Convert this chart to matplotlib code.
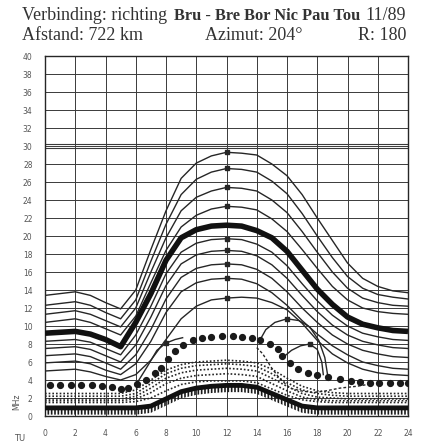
import matplotlib
matplotlib.use("Agg")
import matplotlib.pyplot as plt

# uren (TU)
uren = list(range(25))

# bovenste krommenfamilie (MHz per uur 0..24)
c1 = [13.4, 13.6, 13.8, 13.4, 12.6, 11.9, 14.0, 18.5, 22.8, 26.4, 28.1, 28.9, 29.3, 29.2, 29.0, 28.0, 26.7, 24.6, 22.0, 19.5, 17.0, 15.3, 14.4, 13.9, 13.7]
c2 = [12.3, 12.5, 12.7, 12.3, 11.5, 10.8, 12.9, 17.2, 21.3, 24.6, 26.3, 27.1, 27.5, 27.4, 27.1, 26.1, 24.7, 22.5, 20.0, 17.6, 15.5, 14.2, 13.5, 13.2, 13.0]
c3 = [11.3, 11.5, 11.7, 11.3, 10.6, 9.9, 12.0, 16.0, 19.8, 22.8, 24.3, 25.0, 25.4, 25.3, 25.0, 24.0, 22.6, 20.5, 18.2, 16.0, 14.2, 13.1, 12.6, 12.3, 12.2]
c4 = [10.4, 10.6, 10.8, 10.4, 9.7, 9.0, 11.1, 14.8, 18.4, 21.0, 22.3, 23.0, 23.3, 23.2, 22.9, 21.9, 20.5, 18.5, 16.4, 14.4, 12.9, 12.0, 11.6, 11.4, 11.3]
muf = [9.2, 9.3, 9.4, 9.1, 8.5, 7.7, 10.4, 13.6, 17.3, 19.8, 20.7, 21.1, 21.2, 21.1, 20.6, 19.8, 18.3, 16.2, 14.1, 12.4, 11.0, 10.2, 9.8, 9.5, 9.4]
c6 = [8.3, 8.4, 8.5, 8.2, 7.5, 6.8, 9.0, 12.2, 15.8, 18.2, 19.2, 19.6, 19.7, 19.6, 19.1, 18.2, 16.7, 14.7, 12.8, 11.2, 10.0, 9.2, 8.8, 8.5, 8.4]
c7 = [7.5, 7.6, 7.7, 7.4, 6.7, 6.0, 7.9, 11.0, 14.5, 16.9, 17.9, 18.3, 18.4, 18.3, 17.8, 16.8, 15.3, 13.4, 11.6, 10.1, 9.0, 8.3, 7.9, 7.6, 7.5]
c8 = [6.7, 6.8, 6.9, 6.6, 5.9, 5.2, 6.8, 9.6, 13.0, 15.4, 16.4, 16.8, 16.9, 16.8, 16.3, 15.3, 13.8, 12.0, 10.4, 9.0, 8.0, 7.3, 6.9, 6.6, 6.5]
c9 = [5.9, 6.0, 6.1, 5.8, 5.1, 4.6, 5.8, 8.3, 11.5, 13.8, 14.8, 15.2, 15.3, 15.2, 14.7, 13.7, 12.3, 10.6, 9.1, 7.8, 6.8, 6.0, 5.6, 5.3, 5.2]
c10 = [5.0, 5.1, 5.2, 4.9, 4.4, 4.0, 4.6, 6.2, 8.5, 10.8, 12.2, 12.9, 13.1, 13.2, 13.1, 12.6, 11.8, 10.3, 8.4, 6.9, 5.9, 5.2, 4.8, 4.6, 4.5]
familie = [c1, c2, c3, c4, c6, c7, c8, c9, c10]

# korte aftakkingen
tak1_h = [14.2, 14.6, 15.2, 16.0, 16.8, 17.5, 18.1, 18.5, 18.7]
tak1_v = [8.4, 9.6, 10.4, 10.8, 10.6, 9.9, 8.4, 6.5, 4.4]
tak2_h = [15.8, 16.3, 16.9, 17.5, 18.0, 18.3, 18.4]
tak2_v = [6.6, 7.3, 7.8, 8.0, 7.4, 6.0, 4.6]
tak3_h = [6.1, 6.8, 7.4, 8.0, 8.6, 9.1]
tak3_v = [3.7, 5.6, 7.3, 8.1, 8.5, 8.7]
streep_h = [14.0, 14.4, 15.0, 15.5, 16.2, 16.9, 17.7, 18.6, 19.5, 20.6, 21.7]
streep_v = [7.6, 6.9, 5.3, 4.2, 3.1, 2.8, 2.6, 2.8, 3.1, 3.3, 3.6]

# grote stippen
stip_h = [0.3, 1.0, 1.7, 2.4, 3.1, 3.8, 4.4, 5.0, 5.5, 6.1, 6.7, 7.3, 7.7, 8.1, 8.6, 9.1, 9.8, 10.4, 11.0, 11.7,
          12.4, 13.0, 13.7, 14.2, 14.9, 15.4, 15.7, 16.2, 16.7, 17.4, 18.0, 18.7, 19.5, 20.2, 20.8, 21.5, 22.1,
          22.8, 23.5, 24.0]
stip_v = [3.5, 3.5, 3.5, 3.5, 3.4, 3.3, 3.2, 3.0, 3.1, 3.6, 4.0, 4.8, 5.3, 6.3, 7.2, 7.9, 8.5, 8.7, 8.8, 8.9,
          8.9, 8.8, 8.7, 8.4, 8.0, 7.5, 6.7, 5.9, 5.2, 4.8, 4.6, 4.3, 4.1, 3.9, 3.8, 3.7, 3.7,
          3.7, 3.7, 3.7]

# fijne stippellijnen onderaan
d1 = [2.5, 2.5, 2.5, 2.5, 2.5, 2.5, 2.9, 4.0, 5.1, 5.7, 6.0, 6.1, 6.2, 6.1, 5.9, 5.2, 4.2, 3.3, 2.8, 2.6, 2.5, 2.5, 2.5, 2.5, 2.5]
d2 = [2.2, 2.2, 2.2, 2.2, 2.2, 2.2, 2.5, 3.6, 4.7, 5.3, 5.6, 5.7, 5.8, 5.7, 5.5, 4.7, 3.7, 2.9, 2.5, 2.3, 2.2, 2.2, 2.2, 2.2, 2.2]
d3 = [1.9, 1.9, 1.9, 1.9, 1.9, 1.9, 2.2, 3.1, 4.2, 4.8, 5.1, 5.2, 5.3, 5.2, 5.0, 4.2, 3.3, 2.5, 2.1, 2.0, 1.9, 1.9, 1.9, 1.9, 1.9]
d4 = [1.7, 1.7, 1.7, 1.7, 1.7, 1.7, 1.9, 2.6, 3.6, 4.2, 4.5, 4.6, 4.7, 4.6, 4.4, 3.6, 2.8, 2.1, 1.8, 1.7, 1.7, 1.7, 1.7, 1.7, 1.7]
d5 = [1.5, 1.5, 1.5, 1.5, 1.5, 1.5, 1.6, 2.0, 2.8, 3.5, 3.8, 3.9, 3.9, 3.9, 3.7, 3.0, 2.3, 1.8, 1.6, 1.5, 1.5, 1.5, 1.5, 1.5, 1.5]
stippel = [d1, d2, d3, d4, d5]

# dikke onderste lijn (LUF)
luf = [0.9, 0.9, 0.9, 0.9, 0.9, 0.9, 0.9, 1.1, 1.9, 2.7, 3.1, 3.3, 3.4, 3.4, 3.2, 2.5, 1.8, 1.1, 0.9, 0.9, 0.9, 0.9, 0.9, 0.9, 0.9]

dubbel = [30]
inkt = '#262626'
raster = '#3a3a3a'

fig = plt.figure(figsize=(4.23, 4.48), dpi=100)
ax = fig.add_axes([45/423, 1-416/448, 363/423, 360/448])

for y in range(0, 41, 2):
    ax.axhline(y, color=raster, lw=0.7, zorder=1)
for x in range(0, 25, 2):
    ax.axvline(x, color=raster, lw=0.7, zorder=1)
for y in dubbel:
    ax.axhline(y - 0.18, color=raster, lw=0.8, zorder=1)
    ax.axhline(y + 0.18, color=raster, lw=0.8, zorder=1)

for c in familie:
    ax.plot(uren, c, color=inkt, lw=1.0, marker='s', markersize=2.5, markevery=[12], zorder=3)
ax.plot(uren, muf, color='#111111', lw=4.0, solid_capstyle='butt', zorder=4)

for th, tv in [(tak1_h, tak1_v), (tak2_h, tak2_v), (tak3_h, tak3_v)]:
    ax.plot(th, tv, color=inkt, lw=1.0, marker='s', markersize=2.5, markevery=[3], zorder=3)
ax.plot(streep_h, streep_v, color=inkt, lw=1.0, ls=(0, (2, 1.5)), zorder=3)

ax.plot(stip_h, stip_v, ls='none', marker='o', markersize=4.2, color='#1a1a1a', zorder=5)

for d in stippel:
    ax.plot(uren, d, color=inkt, lw=1.2, ls=(0, (1, 1.2)), zorder=3)

plt.rcParams['hatch.linewidth'] = 1.2
plt.rcParams['hatch.color'] = '#1a1a1a'
ax.fill_between(uren, [v - 0.75 for v in luf], luf, facecolor='none', edgecolor='#1a1a1a',
                hatch='|||||', linewidth=0, zorder=4)
ax.plot(uren, luf, color='#111111', lw=3.5, zorder=5)

ax.set_xlim(0, 24)
ax.set_ylim(0, 40)
ax.set_xticks(range(0, 25, 2))
ax.set_yticks(range(0, 41, 2))
ax.tick_params(length=0, labelsize=5.5, labelcolor='#555555', pad=9)
for s in ax.spines.values():
    s.set_color(inkt)
    s.set_linewidth(1.0)

serif = 'Liberation Serif'
fig.text(22/423, 1-16/448, 'Verbinding: richting', family=serif, fontsize=13, va='center', ha='left', color='#333333')
fig.text(174/423, 1-16/448, 'Bru - Bre Bor Nic Pau Tou', family=serif, fontsize=11.8, weight='bold',
         va='center', ha='left', color='#333333')
fig.text(406/423, 1-16/448, '11/89', family=serif, fontsize=13, va='center', ha='right', color='#333333')
fig.text(22/423, 1-36/448, 'Afstand: 722 km', family=serif, fontsize=13, va='center', ha='left', color='#333333')
fig.text(205/423, 1-36/448, 'Azimut: 204°', family=serif, fontsize=13, va='center', ha='left', color='#333333')
fig.text(406/423, 1-36/448, 'R: 180', family=serif, fontsize=13, va='center', ha='right', color='#333333')

fig.text(20/423, 1-438/448, 'TU', fontsize=6, color='#555555', ha='center', va='center')
fig.text(17/423, 1-402/448, 'MHz', fontsize=5.5, color='#555555', ha='center', va='center', rotation=90)

fig.savefig('out.png', dpi=100)
